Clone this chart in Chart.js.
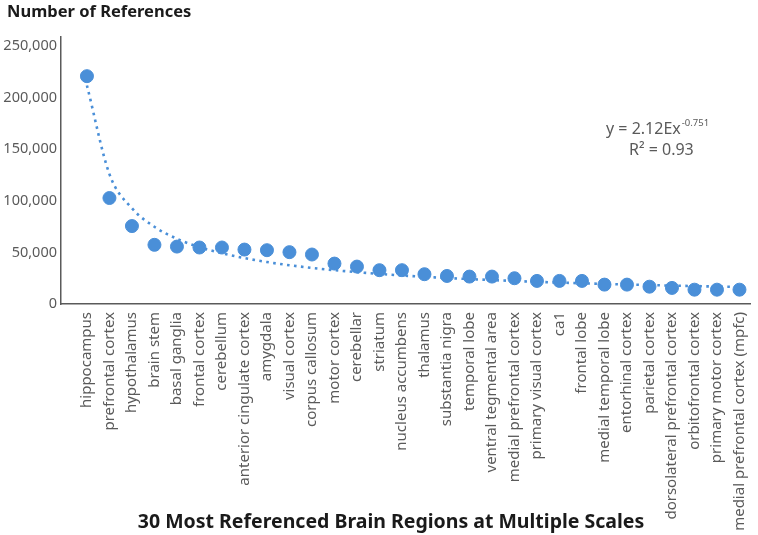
<!DOCTYPE html>
<html>
<head>
<meta charset="utf-8">
<script src="https://cdn.jsdelivr.net/npm/chart.js@4"></script>
<style>
  html, body { margin: 0; padding: 0; background: #fff; }
</style>
</head>
<body>
<canvas id="chart" width="758" height="535"></canvas>
<script>
const regions = [
    "hippocampus", "prefrontal cortex", "hypothalamus", "brain stem", "basal ganglia",
    "frontal cortex", "cerebellum", "anterior cingulate cortex", "amygdala", "visual cortex",
    "corpus callosum", "motor cortex", "cerebellar", "striatum", "nucleus accumbens",
    "thalamus", "substantia nigra", "temporal lobe", "ventral tegmental area", "medial prefrontal cortex",
    "primary visual cortex", "ca1", "frontal lobe", "medial temporal lobe", "entorhinal cortex",
    "parietal cortex", "dorsolateral prefrontal cortex", "orbitofrontal cortex", "primary motor cortex",
    "medial prefrontal cortex (mpfc)"
];
const references = [
    221000, 102800, 75600, 57400, 55700,
    54800, 54800, 52800, 52200, 50300,
    48000, 39200, 36300, 32800, 32800,
    28900, 27200, 26600, 26600, 25000,
    22400, 22400, 22400, 18800, 18800,
    16800, 15600, 13900, 13900, 13900
];
// power trendline values, read per category
const trendline = [
    212000, 126000, 92900, 74900, 63300,
    55200, 49200, 44500, 40700, 37600,
    35000, 32800, 30900, 29200, 27700,
    26400, 25200, 24200, 23200, 22300,
    21500, 20800, 20100, 19500, 18900,
    18400, 17800, 17400, 16900, 16500
];
const yTicks = [0, 50000, 100000, 150000, 200000, 250000];
const chartTitle = "Number of References";
const axisTitle = "30 Most Referenced Brain Regions at Multiple Scales";
const equationMain = "y = 2.12Ex";
const equationExp = "-0.751";
const rSquared = "R\u00b2 = 0.93";

const blue = "#4a8fd8";
const grey = "#5a5a5a";
const font = "'Noto Sans', 'Liberation Sans', sans-serif";

const textPlugin = {
    id: "texts",
    afterDraw(chart) {
        const ctx = chart.ctx;
        ctx.save();
        ctx.fillStyle = "#1a1a1a";
        ctx.textBaseline = "middle";
        ctx.font = "bold 16.5px " + font;
        ctx.textAlign = "left";
        ctx.fillText(chartTitle, 7, 12);

        ctx.textAlign = "center";
        ctx.font = "bold 19.5px " + font;
        ctx.fillText(axisTitle, 391, 522);

        // equation
        ctx.fillStyle = grey;
        ctx.font = "16px " + font;
        ctx.textAlign = "left";
        ctx.fillText(equationMain, 606, 129);
        const w = ctx.measureText(equationMain).width;
        ctx.font = "9.5px " + font;
        ctx.fillText(equationExp, 606 + w + 1, 123);
        ctx.font = "16px " + font;
        ctx.fillText(rSquared, 629, 150);
        ctx.restore();
    }
};

new Chart(document.getElementById("chart"), {
    type: "scatter",
    data: {
        datasets: [{
            label: "references",
            data: references.map((v, i) => ({ x: i + 1, y: v })),
            backgroundColor: blue,
            borderColor: blue,
            pointRadius: 6.5,
            pointHoverRadius: 6.5,
            order: 0
        }, {
            type: "line",
            label: "trend",
            data: trendline.map((v, i) => ({ x: i + 1, y: v })),
            borderColor: blue,
            borderWidth: 2.6,
            borderDash: [2.6, 4.4],
            pointRadius: 0,
            fill: false,
            cubicInterpolationMode: "monotone",
            order: 1
        }]
    },
    options: {
        responsive: false,
        devicePixelRatio: 1,
        animation: false,
        layout: { padding: { top: 37, right: 6, left: 0, bottom: 0 } },
        plugins: {
            legend: { display: false },
            tooltip: { enabled: false },
            title: { display: false }
        },
        scales: {
            x: {
                type: "linear",
                min: -0.153,
                max: 30.49,
                afterBuildTicks: (s) => { s.ticks = regions.map((r, i) => ({ value: i + 1 })); },
                afterFit: (s) => {
                    s.height = 231;
                    s.paddingLeft = 0;
                    s.paddingRight = 0;
                },
                ticks: {
                    autoSkip: false,
                    minRotation: 90,
                    maxRotation: 90,
                    padding: 8,
                    color: grey,
                    font: { family: font, size: 15 },
                    callback: (v) => regions[v - 1]
                },
                grid: { display: false, drawTicks: false },
                border: { color: grey, width: 1.5 }
            },
            y: {
                min: 0,
                max: 259000,
                afterBuildTicks: (s) => { s.ticks = yTicks.map((v) => ({ value: v })); },
                afterFit: (s) => { s.width = 61; },
                ticks: {
                    padding: 4,
                    color: grey,
                    font: { family: font, size: 14.5 },
                    callback: (v) => v.toLocaleString("en-US")
                },
                grid: { display: false, drawTicks: false },
                border: { color: grey, width: 1.5 }
            }
        }
    },
    plugins: [textPlugin]
});
</script>
</body>
</html>
